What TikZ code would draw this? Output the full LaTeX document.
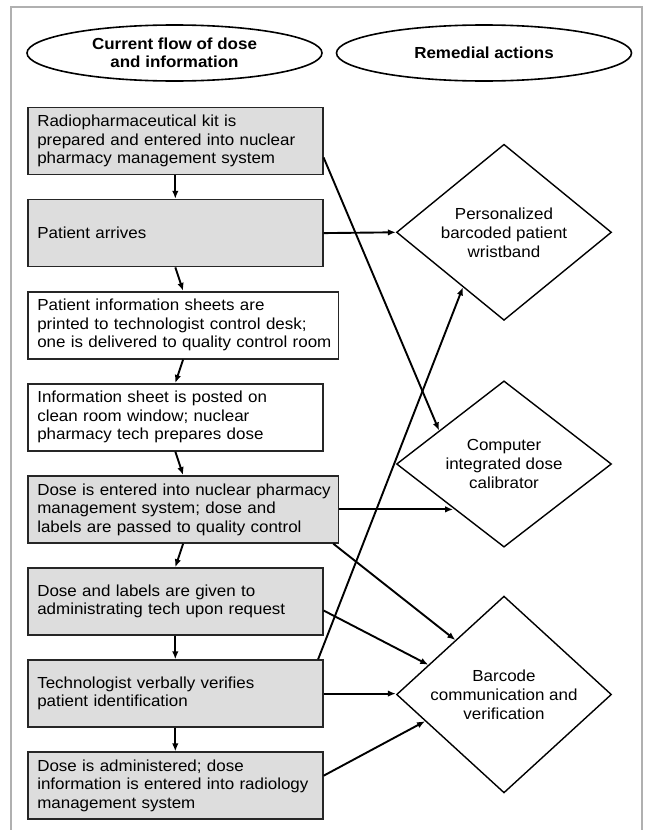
\documentclass[tikz,border=0pt]{standalone}
\usepackage{fontspec}
\setmainfont{Liberation Sans}[FakeStretch=1.06]
\usetikzlibrary{shapes.geometric,arrows.meta,calc}
\definecolor{boxgray}{HTML}{DDDDDD}
\definecolor{framegray}{HTML}{B0B0B0}
\begin{document}
\begin{tikzpicture}[x=1pt,y=-1pt,
  flow/.style={draw=black!85, line width=1.6pt, rectangle, inner xsep=9.5pt, inner ysep=0pt,
    minimum height=67pt, align=left, anchor=north west,
    font=\fontsize{16}{18.5}\selectfont},
  grayflow/.style={flow, fill=boxgray},
  act/.style={diamond, draw, line width=1.4pt, minimum width=215pt, minimum height=158pt,
    inner sep=0pt, align=center, font=\fontsize{16}{19}\selectfont},
  hdr/.style={ellipse, draw, line width=1.6pt, minimum width=295pt, minimum height=56pt,
    inner sep=0pt, align=center, font=\fontsize{16}{18.5}\selectfont\bfseries},
  arr/.style={-{Latex[length=8pt,width=6.5pt]}, line width=1.9pt}]
\useasboundingbox (0,0) rectangle (649,830);
\draw[framegray, line width=2pt] (11,832) -- (11,7) -- (642,7) -- (642,832);

\node[hdr] (h1) at (174.5,53) {Current flow of dose\\and information};
\node[hdr] (h2) at (484,53) {Remedial actions};

\node[grayflow, text width=276pt] (b1) at (27,106.7) {Radiopharmaceutical kit is\\prepared and entered into nuclear\\pharmacy management system};
\node[grayflow, text width=276pt] (b2) at (27,198.8) {Patient arrives};
\node[flow, text width=291.7pt] (b3) at (27,290.9) {Patient information sheets are\\printed to technologist control desk;\\\mbox{one is delivered to quality control room}};
\node[flow, text width=276pt] (b4) at (27,383) {Information sheet is posted on\\clean room window; nuclear\\pharmacy tech prepares dose};
\node[grayflow, text width=291.7pt] (b5) at (27,475.1) {\mbox{Dose is entered into nuclear pharmacy}\\management system; dose and\\labels are passed to quality control};
\node[grayflow, text width=276pt] (b6) at (27,567.2) {Dose and labels are given to\\administrating tech upon request};
\node[grayflow, text width=276pt] (b7) at (27,659.3) {Technologist verbally verifies\\patient identification};
\node[grayflow, text width=276pt] (b8) at (27,751.4) {Dose is administered; dose\\information is entered into radiology\\management system};

\node[act] (d1) at (504,232.3) {Personalized\\barcoded patient\\wristband};
\node[act] (d2) at (504,464) {Computer\\integrated dose\\calibrator};
\node[act] (d3) at (504,694.5) {Barcode\\communication and\\verification};

\draw[arr] (b1.south) -- (b2.north);
\draw[arr] (b2.south) -- (b3.north);
\draw[arr] (b3.south) -- (b4.north);
\draw[arr] (b4.south) -- (b5.north);
\draw[arr] (b5.south) -- (b6.north);
\draw[arr] (b6.south) -- (b7.north);
\draw[arr] (b7.south) -- (b8.north);

\coordinate (d2in) at ($(d2.west)!0.53!(d2.south)$);
\coordinate (b1out) at ($(b1.east)+(0,16.5)$);
\coordinate (b7out) at ($(b7.north east)+(-5.5,0)$);
\coordinate (b5out) at ($(b5.south east)+(-6,0)$);
\coordinate (b6out) at ($(b6.east)+(0,9)$);
\coordinate (b8out) at ($(b8.east)+(0,-10)$);

\draw[arr] (b1out) -- ($(d2.north)!0.6!(d2.west)$);
\draw[arr] (b2.east) -- (d1.west);
\draw[arr] (b7out) -- ($(d1.south)!0.38!(d1.west)$);
\draw[arr] (b5.east) -- (b5.east -| d2in);
\draw[arr] (b5out) -- ($(d3.north)!0.45!(d3.west)$);
\draw[arr] (b6out) -- ($(d3.west)!0.3!(d3.north)$);
\draw[arr] (b7.east) -- (b7.east -| d3.west);
\draw[arr] (b8out) -- ($(d3.west)!0.27!(d3.south)$);
\end{tikzpicture}
\end{document}
